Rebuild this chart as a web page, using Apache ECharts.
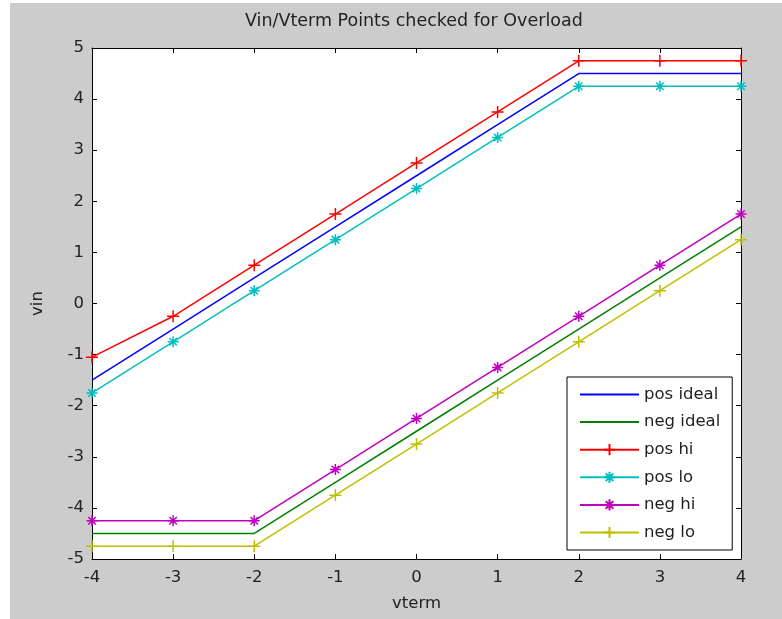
<!DOCTYPE html>
<html>
<head>
<meta charset="utf-8">
<script src="https://cdn.jsdelivr.net/npm/echarts@6/dist/echarts.min.js"></script>
<style>
  html, body { margin: 0; padding: 0; background: #ffffff; width: 782px; height: 619px; overflow: hidden; }
  #c { position: absolute; left: 10px; top: 3px; width: 772px; height: 616px; }
</style>
</head>
<body>
<div id="c"></div>
<script>
var vterm    = [-4, -3, -2, -1, 0, 1, 2, 3, 4];
var posIdeal = [-1.5, -0.5, 0.5, 1.5, 2.5, 3.5, 4.5, 4.5, 4.5];
var negIdeal = [-4.5, -4.5, -4.5, -3.5, -2.5, -1.5, -0.5, 0.5, 1.5];
var posHi    = [-1.05, -0.25, 0.75, 1.75, 2.75, 3.75, 4.75, 4.75, 4.75];
var posLo    = [-1.75, -0.75, 0.25, 1.25, 2.25, 3.25, 4.25, 4.25, 4.25];
var negHi    = [-4.25, -4.25, -4.25, -3.25, -2.25, -1.25, -0.25, 0.75, 1.75];
var negLo    = [-4.75, -4.75, -4.75, -3.75, -2.75, -1.75, -0.75, 0.25, 1.25];
var seriesNames = ['pos ideal', 'neg ideal', 'pos hi', 'pos lo', 'neg hi', 'neg lo'];

var FONT = 'DejaVu Sans, sans-serif';
var FS = 16.5;
var TXT = '#222';
var PLUS = 'path://M5,0L5,10M0,5L10,5';
var STAR = 'path://M5,0L5,10M0,5L10,5M1.6,1.6L8.4,8.4M8.4,1.6L1.6,8.4';

function pairs(ys) { return vterm.map(function (x, i) { return [x, ys[i]]; }); }

function mk(name, ys, color, symbol, size) {
  return {
    name: name, type: 'line', data: pairs(ys),
    lineStyle: { color: color, width: 1.5 },
    itemStyle: { color: color, borderColor: color, borderWidth: 1.5 },
    symbol: symbol || 'none', symbolSize: size || 0,
    showSymbol: !!symbol, animation: false, clip: false,
    emphasis: { disabled: true }
  };
}

var axisCommon = {
  type: 'value', min: -4, max: 4, interval: 1,
  axisLine: { show: true, onZero: false, lineStyle: { color: '#000', width: 1 } },
  axisTick: { show: true, inside: true, length: 5, lineStyle: { color: '#000' } },
  splitLine: { show: false }
};

var legendData = seriesNames.map(function (n, i) {
  return i < 2 ? { name: n, itemStyle: { opacity: 0 } } : { name: n };
});

var chart = echarts.init(document.getElementById('c'));
chart.setOption({
  backgroundColor: '#cccccc',
  animation: false,
  title: {
    text: 'Vin/Vterm Points checked for Overload',
    left: 235, top: 9, padding: 0,
    textStyle: { fontFamily: FONT, fontSize: 17.5, fontWeight: 'normal', color: TXT }
  },
  grid: { left: 82, right: 41, top: 45, bottom: 60, containLabel: false, show: true, backgroundColor: '#ffffff', borderWidth: 0 },
  xAxis: [
    Object.assign({}, axisCommon, {
      position: 'bottom', name: 'vterm', nameLocation: 'middle', nameGap: 36,
      nameTextStyle: { fontFamily: FONT, fontSize: FS, color: TXT },
      axisLabel: { fontFamily: FONT, fontSize: FS, color: TXT, margin: 10 }
    }),
    Object.assign({}, axisCommon, { position: 'top', axisLabel: { show: false } })
  ],
  yAxis: [
    Object.assign({}, axisCommon, {
      min: -5, max: 5, interval: 1, position: 'left',
      name: 'vin', nameLocation: 'middle', nameGap: 46,
      nameTextStyle: { fontFamily: FONT, fontSize: FS, color: TXT },
      axisLabel: { fontFamily: FONT, fontSize: FS, color: TXT, margin: 8 }
    }),
    Object.assign({}, axisCommon, { min: -5, max: 5, interval: 1, position: 'right', axisLabel: { show: false } })
  ],
  legend: {
    data: legendData,
    orient: 'vertical', left: 557, top: 374,
    backgroundColor: '#ffffff', borderColor: '#000', borderWidth: 1, borderRadius: 0,
    padding: [9, 12, 9, 12],
    itemWidth: 59, itemHeight: 14, itemGap: 10.6,
    textStyle: { fontFamily: FONT, fontSize: FS, color: TXT, lineHeight: 17 },
    selectedMode: false
  },
  series: [
    mk(seriesNames[0], posIdeal, '#0000ff'),
    mk(seriesNames[1], negIdeal, '#008000'),
    mk(seriesNames[2], posHi, '#ff0000', PLUS, 12),
    mk(seriesNames[3], posLo, '#00bfbf', STAR, 11),
    mk(seriesNames[4], negHi, '#bf00bf', STAR, 11),
    mk(seriesNames[5], negLo, '#bfbf00', PLUS, 12)
  ]
});
</script>
</body>
</html>
